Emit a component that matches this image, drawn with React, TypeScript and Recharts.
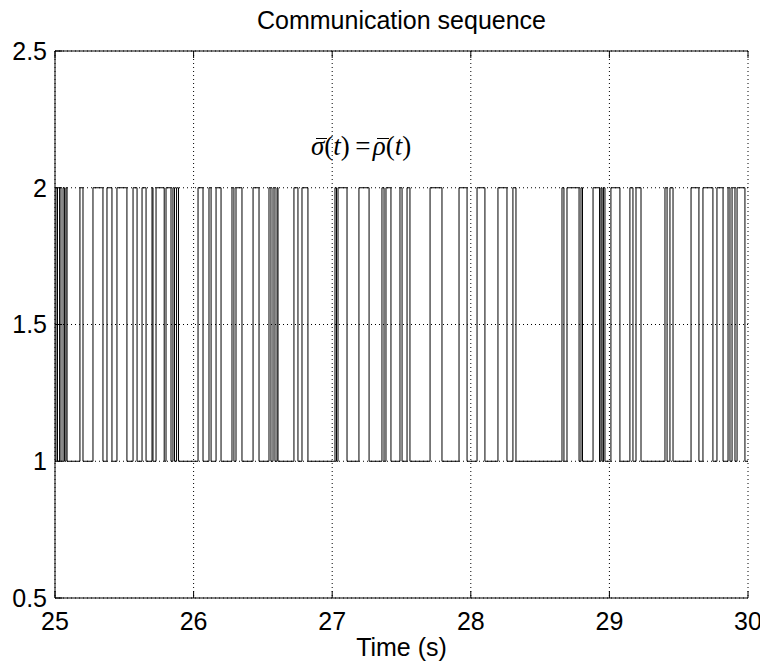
import React from 'react';
import { LineChart, Line, XAxis, YAxis, CartesianGrid } from 'recharts';

const xTicks = [25, 26, 27, 28, 29, 30];
const yTicks = [0.5, 1, 1.5, 2, 2.5];
const lowLevel = 1;
const highLevel = 2;
const startTime = 25;
const endTime = 30;

// intervals (s) during which the sequence is at level 2
const highIntervals: [number, number][] = [
  [25.007, 25.018], [25.033, 25.043], [25.058, 25.069], [25.079, 25.087],
  [25.180, 25.202], [25.274, 25.346], [25.375, 25.411], [25.447, 25.519],
  [25.563, 25.592], [25.628, 25.657], [25.700, 25.707], [25.729, 25.788],
  [25.801, 25.837], [25.851, 25.862], [25.877, 25.891],
  [26.032, 26.068], [26.111, 26.126], [26.162, 26.198],
  [26.277, 26.291], [26.306, 26.349], [26.429, 26.472],
  [26.544, 26.558], [26.573, 26.587], [26.602, 26.609],
  [26.724, 26.753], [26.782, 26.825],
  [27.020, 27.031], [27.042, 27.107], [27.193, 27.266],
  [27.359, 27.374], [27.388, 27.424], [27.489, 27.504], [27.540, 27.561],
  [27.706, 27.792], [27.915, 27.973], [28.045, 28.102],
  [28.196, 28.261], [28.304, 28.326],
  [28.658, 28.672], [28.694, 28.781], [28.795, 28.806],
  [28.882, 28.929], [28.939, 28.947], [28.957, 28.968],
  [29.011, 29.076], [29.148, 29.170], [29.192, 29.228],
  [29.401, 29.416], [29.437, 29.459],
  [29.589, 29.646], [29.675, 29.747], [29.776, 29.820],
  [29.856, 29.870], [29.885, 29.906], [29.921, 29.978],
];

const data: { t: number; v: number }[] = [{ t: startTime, v: lowLevel }];
highIntervals.forEach(([a, b]) => {
  data.push({ t: a, v: highLevel });
  data.push({ t: b, v: lowLevel });
});
data.push({ t: endTime, v: lowLevel });

const font = '"Liberation Sans", Arial, Helvetica, sans-serif';
const tickStyle = { fontSize: 25, fill: '#000', fontFamily: font };
const Empty = () => <g />;

function Bar({ ch }: { ch: string }) {
  return (
    <span style={{ position: 'relative', display: 'inline-block' }}>
      <i>{ch}</i>
      <span
        style={{
          position: 'absolute', left: '0.17em', width: '0.42em', top: '0.2em',
          borderTop: '1.3px solid #000',
        }}
      />
    </span>
  );
}

export default function App() {
  return (
    <div style={{ position: 'relative', width: 760, height: 659, fontFamily: font }}>
      <LineChart width={760} height={659} data={data} margin={{ top: 0, right: 20, left: 0, bottom: 0 }}>
        <CartesianGrid stroke="#000" strokeDasharray="1 3" strokeWidth={1} />
        <XAxis
          dataKey="t"
          type="number"
          domain={[25, 30]}
          ticks={xTicks}
          allowDataOverflow
          height={69}
          tickSize={-7}
          tickMargin={21}
          axisLine={{ stroke: '#000' }}
          tickLine={{ stroke: '#000' }}
          tick={tickStyle}
          interval={0}
        />
        <XAxis
          xAxisId="top"
          dataKey="t"
          orientation="top"
          type="number"
          domain={[25, 30]}
          ticks={xTicks}
          allowDataOverflow
          height={43}
          tickSize={-7}
          axisLine={{ stroke: '#000' }}
          tickLine={{ stroke: '#000' }}
          tick={<Empty />}
          interval={0}
        />
        <YAxis
          type="number"
          domain={[0.5, 2.5]}
          ticks={yTicks}
          allowDataOverflow
          width={47}
          tickSize={-7}
          tickMargin={15}
          axisLine={{ stroke: '#000' }}
          tickLine={{ stroke: '#000' }}
          tick={tickStyle}
          interval={0}
        />
        <YAxis
          yAxisId="right"
          orientation="right"
          type="number"
          domain={[0.5, 2.5]}
          ticks={yTicks}
          allowDataOverflow
          width={0}
          tickSize={-7}
          axisLine={{ stroke: '#000' }}
          tickLine={{ stroke: '#000' }}
          tick={<Empty />}
          interval={0}
        />
        <Line
          type="stepAfter"
          dataKey="v"
          stroke="#000"
          strokeWidth={1}
          dot={false}
          isAnimationActive={false}
        />
      </LineChart>
      <div
        style={{
          position: 'absolute', left: 47, width: 693, top: 0, textAlign: 'center',
          fontSize: 25, lineHeight: '25px', color: '#000', whiteSpace: 'nowrap',
        }}
      >
        Communication sequence
      </div>
      <div
        style={{
          position: 'absolute', left: 47, width: 693, top: 627, textAlign: 'center',
          fontSize: 25, lineHeight: '25px', color: '#000', whiteSpace: 'nowrap',
        }}
      >
        Time (s)
      </div>
      <div
        style={{
          position: 'absolute', left: 303, top: 125, whiteSpace: 'nowrap',
          fontFamily: '"Liberation Serif", "DejaVu Serif", serif', fontSize: 27, lineHeight: '27px', color: '#000',
        }}
      >
        <Bar ch="σ" />(<i>t</i>)&#8201;=&#8202;<Bar ch="ρ" />(<i>t</i>)
      </div>
    </div>
  );
}
